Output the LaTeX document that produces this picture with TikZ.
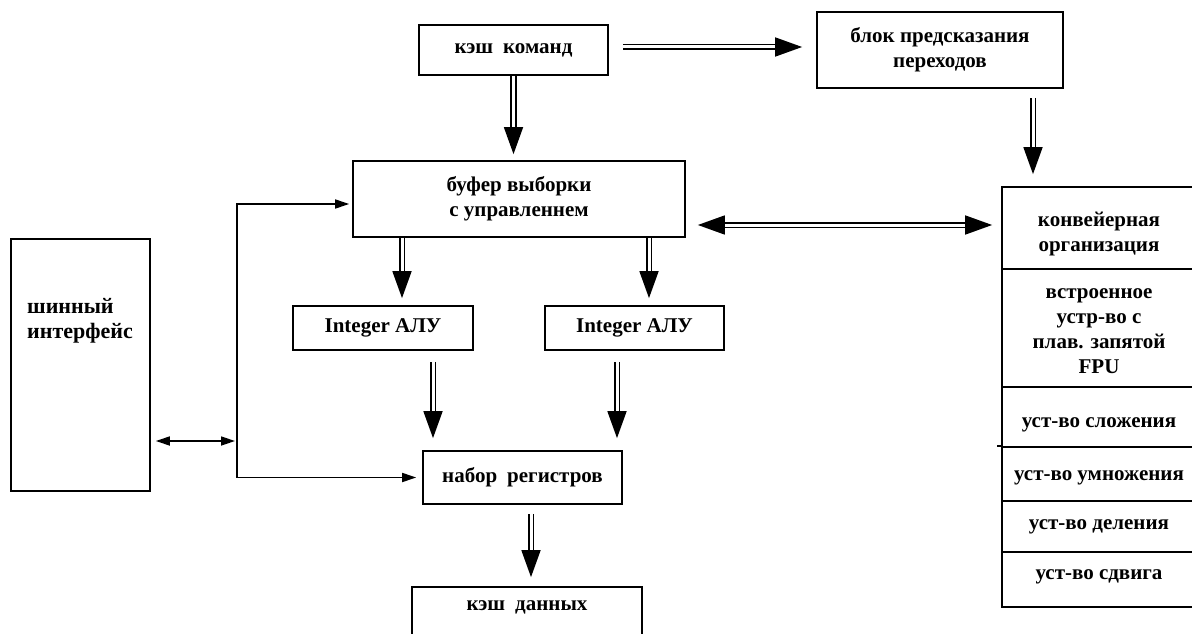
\documentclass[tikz,border=0pt]{standalone}
\usepackage{fontspec}
\setmainfont{Liberation Serif}
\usetikzlibrary{arrows.meta}
\begin{document}
\begin{tikzpicture}[x=1pt,y=-1pt,
  lbl/.style={font=\fontsize{21}{25}\selectfont\bfseries},
  box/.style={draw=black, line width=1.7pt, inner sep=0pt, align=center, lbl},
  cell/.style={box, minimum width=194pt},
  txt/.style={inner sep=0pt, align=center, lbl},
  dbl/.style={draw=black, line width=1.6pt, double=white, double distance=3pt,
    -{Triangle[length=27pt,width=19pt]}},
  dblboth/.style={dbl, {Triangle[length=27pt,width=19pt]}-{Triangle[length=27pt,width=19pt]}},
  wire/.style={draw=black, line width=1.7pt, -{Triangle[length=14pt,width=9pt]}},
  wireboth/.style={wire, {Triangle[length=14pt,width=9pt]}-{Triangle[length=14pt,width=9pt]}}
]
\useasboundingbox (0,0) rectangle (1192,634);

% main blocks
\node[box, minimum width=189pt, minimum height=50pt] (kcmd) at (513.5,50) {кэш\hspace{10pt}команд};
\node[box, minimum width=246pt, minimum height=76pt] (bpred) at (940,50) {блок предсказания\\переходов};
\node[box, minimum width=332pt, minimum height=76pt] (buf) at (519,199) {буфер выборки\\с управленнем};
\node[box, minimum width=180pt, minimum height=44pt] (alu1) at (383,328) {Integer АЛУ};
\node[box, minimum width=179pt, minimum height=44pt] (alu2) at (634.5,328) {Integer АЛУ};
\node[box, minimum width=199pt, minimum height=53pt] (regs) at (522.5,477.5) {набор\hspace{10pt}регистров};
\node[box, minimum width=230pt, minimum height=70pt] (dcache) at (527,622) {};
\node[txt] (dcachetxt) at (527,607) {кэш\hspace{10pt}данных};

% bus interface
\node[box, minimum width=139pt, minimum height=252pt] (bus) at (80.5,365) {};
\node[txt, anchor=west, align=left, font=\fontsize{22}{25}\selectfont\bfseries] (bustxt) at (27,320.5) {шинный\\интерфейс};

% floating point column: cells and their captions
\node[cell, minimum height=82pt] (fconv) at (1099,228) {};
\node[cell, minimum height=118pt] (ffpu) at (1099,328) {};
\node[cell, minimum height=60pt] (fadd) at (1099,417) {};
\node[cell, minimum height=54pt] (fmul) at (1099,474) {};
\node[cell, minimum height=51pt] (fdiv) at (1099,526.5) {};
\node[cell, minimum height=55pt] (fshift) at (1099,579.5) {};
\node[txt] (tconv) at ([yshift=-6pt]fconv.center) {конвейерная\\организация};
\node[txt] (tfpu) at ([yshift=-3pt]ffpu.center) {встроенное\\устр-во с\\плав. запятой\\FPU};
\node[txt] (tadd) at ([yshift=-8pt]fadd.center) {уст-во сложения};
\node[txt] (tmul) at ([yshift=-4pt]fmul.center) {уст-во умножения};
\node[txt] (tdiv) at (fdiv.center) {уст-во деления};
\node[txt] (tshift) at ([yshift=3pt]fshift.center) {уст-во сдвига};
\draw[line width=1.7pt] ([xshift=-4pt]fmul.north west) -- (fmul.north west);

% wide data paths
\coordinate (k1) at ([yshift=3pt]kcmd.east);
\draw[dbl, shorten <=14pt, shorten >=14pt] (k1) -- (k1 -| bpred.west);
\draw[dbl, shorten >=6pt] (kcmd.south) -- (kcmd.south |- buf.north);
\coordinate (bp1) at ([xshift=93pt]bpred.south);
\draw[dbl, shorten <=9pt, shorten >=12pt] (bp1) -- (bp1 |- fconv.north);
\coordinate (b2) at ([yshift=-26pt]buf.east);
\draw[dblboth, shorten <=12pt, shorten >=9pt] (b2) -- (b2 -| fconv.west);
\coordinate (b3) at ([xshift=-117pt]buf.south);
\draw[dbl, shorten >=7pt] (b3) -- (b3 |- alu1.north);
\coordinate (b4) at ([xshift=130pt]buf.south);
\draw[dbl, shorten >=7pt] (b4) -- (b4 |- alu2.north);
\coordinate (a1) at ([xshift=50pt]alu1.south);
\draw[dbl, shorten <=11pt, shorten >=12pt] (a1) -- (a1 |- regs.north);
\coordinate (a2) at ([xshift=-17.5pt]alu2.south);
\draw[dbl, shorten <=11pt, shorten >=12pt] (a2) -- (a2 |- regs.north);
\coordinate (r1) at ([xshift=8.5pt]regs.south);
\draw[dbl, shorten <=9pt, shorten >=9pt] (r1) -- (r1 |- dcache.north);

% bus wiring
\coordinate (wtop) at (237,204);
\coordinate (wbot) at (237,477.5);
\coordinate (wmid) at (237,441);
\draw[wire, shorten >=3pt] (wbot) -- (wtop) -- (wtop -| buf.west);
\draw[wire, shorten >=6pt] (wtop) -- (wbot) -- (wbot -| regs.west);
\draw[wireboth, shorten <=5pt, shorten >=2pt] (bus.east |- wmid) -- (wmid);
\end{tikzpicture}
\end{document}
